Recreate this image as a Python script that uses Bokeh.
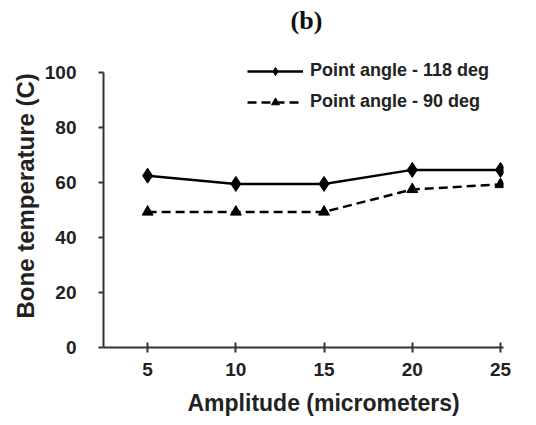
from bokeh.plotting import figure
from bokeh.models import Range1d, Legend, LegendItem, Title, FixedTicker, Label
from bokeh.embed import file_html
from bokeh.resources import INLINE

amplitude = [5, 10, 15, 20, 25]
temp_118 = [62.5, 59.5, 59.5, 64.6, 64.6]
temp_90 = [49.3, 49.3, 49.3, 57.5, 59.3]
y_ticks = [0, 20, 40, 60, 80, 100]

p = figure(width=530, height=425, output_backend="svg", toolbar_location=None,
           x_range=Range1d(2.5, 25.17), y_range=Range1d(0, 126.2),
           min_border_left=103, min_border_right=27, min_border_top=0, min_border_bottom=78)
p.outline_line_color = None
p.xgrid.visible = False
p.ygrid.visible = False

l1 = p.line(amplitude, temp_118, line_color="black", line_width=2.5)
m1 = p.scatter(amplitude, temp_118, marker="diamond", size=15, color="black")
l2 = p.line(amplitude, temp_90, line_color="black", line_width=2.5, line_dash="9 5")
m2 = p.scatter(amplitude, temp_90, marker="triangle", size=11, color="black")

legend = Legend(items=[LegendItem(label="Point angle - 118 deg", renderers=[l1, m1]),
                       LegendItem(label="Point angle - 90 deg", renderers=[l2, m2])],
                location=(144, 235), padding=0, margin=0, spacing=10,
                glyph_width=56, glyph_height=20, label_height=20,
                label_text_font="Liberation Sans", label_text_font_style="bold",
                label_text_font_size="18px", label_text_color="#222222",
                label_standoff=7, background_fill_alpha=0, border_line_color=None)
p.add_layout(legend, "center")

for ax in (p.xaxis, p.yaxis):
    ax.axis_line_color = "#333333"
    ax.axis_line_width = 2
    ax.major_tick_line_color = "#333333"
    ax.major_tick_line_width = 2
    ax.minor_tick_line_color = None
    ax.major_label_text_font = "Liberation Sans"
    ax.major_label_text_font_style = "bold"
    ax.major_label_text_font_size = "19px"
    ax.major_label_text_color = "#222222"

p.xaxis.ticker = FixedTicker(ticks=amplitude)
p.yaxis.ticker = FixedTicker(ticks=y_ticks)
p.yaxis.bounds = (0, 100)
p.xaxis.major_tick_in = 5
p.xaxis.major_tick_out = 5
p.yaxis.major_tick_in = 0
p.yaxis.major_tick_out = 5
p.xaxis.major_label_standoff = 10
p.yaxis.major_label_standoff = 22

p.add_layout(Title(text="Amplitude (micrometers)", align="left", offset=84,
                   text_font="Liberation Sans", text_font_style="bold",
                   text_font_size="23px", text_color="#222222", standoff=19), "below")
p.add_layout(Title(text="Bone temperature  (C)", align="left", offset=29,
                   text_font="Liberation Sans", text_font_style="bold",
                   text_font_size="24px", text_color="#222222", standoff=6), "left")

p.add_layout(Label(x=203, y=327, x_units="screen", y_units="screen", text="(b)",
                   text_align="center", text_baseline="middle",
                   text_font="Liberation Serif", text_font_style="bold",
                   text_font_size="26px", text_color="#111111"))

open("out.html", "w").write(file_html(p, INLINE))
